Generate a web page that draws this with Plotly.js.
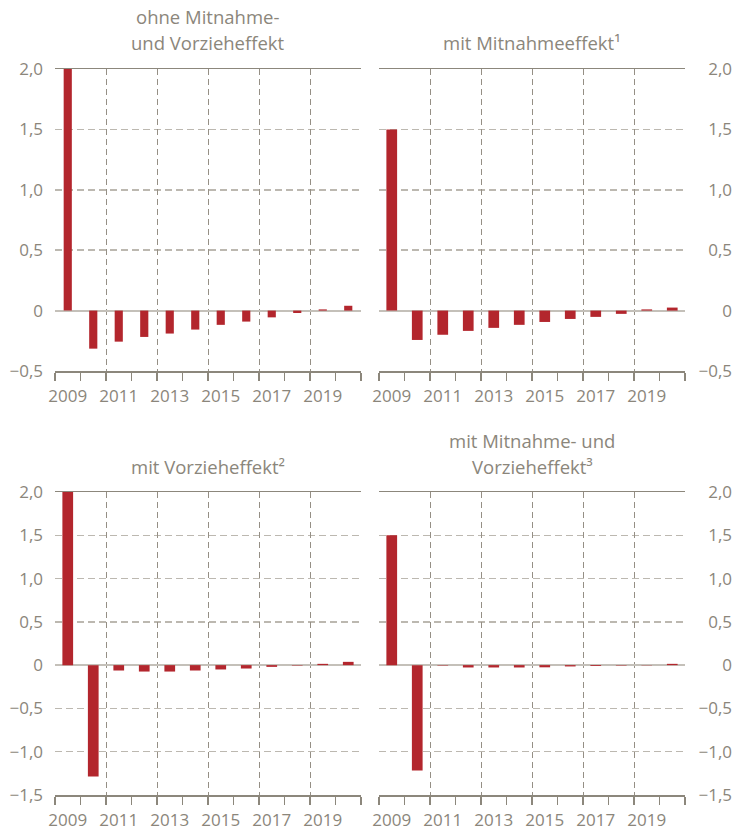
<!DOCTYPE html>
<html>
<head>
<meta charset="utf-8">
<script src="https://cdn.plot.ly/plotly-3.0.1.min.js"></script>
<style>html,body{margin:0;padding:0;background:#fff;}#chart{width:734px;height:831px;}</style>
</head>
<body>
<div id="chart"></div>
<script>
// ---- data ----
const years = [2009, 2010, 2011, 2012, 2013, 2014, 2015, 2016, 2017, 2018, 2019, 2020];
const ohneEffekt      = [2.00, -0.315, -0.257, -0.218, -0.19, -0.157, -0.118, -0.091, -0.056, -0.02, 0.01, 0.04];
const mitMitnahme     = [1.50, -0.243, -0.20, -0.168, -0.143, -0.118, -0.094, -0.069, -0.052, -0.027, 0.01, 0.025];
const mitVorzieh      = [2.00, -1.285, -0.062, -0.074, -0.074, -0.062, -0.05, -0.039, -0.02, -0.005, 0.015, 0.038];
const mitBeiden       = [1.50, -1.216, -0.005, -0.027, -0.027, -0.027, -0.025, -0.015, -0.01, -0.005, -0.003, 0.015];
const panelTitles = [
  ["ohne Mitnahme-", "und Vorzieheffekt"],
  ["mit Mitnahmeeffekt\u00b9"],
  ["mit Vorzieheffekt\u00b2"],
  ["mit Mitnahme- und", "Vorzieheffekt\u00b3"]
];
const xLabelYears = [2009, 2011, 2013, 2015, 2017, 2019];
const yTicksTop = [-0.5, 0, 0.5, 1.0, 1.5, 2.0];
const yTextTop  = ["\u22120,5", "0", "0,5", "1,0", "1,5", "2,0"];
const yTicksBot = [-1.5, -1.0, -0.5, 0, 0.5, 1.0, 1.5, 2.0];
const yTextBot  = ["\u22121,5", "\u22121,0", "\u22120,5", "0", "0,5", "1,0", "1,5", "2,0"];

// ---- styling ----
const W = 734, H = 831;
const textCol = '#8b867b';
const axisCol = '#8c877c';
const hGridCol = '#bcb8b0';
const vGridCol = '#958f85';
const zeroCol = '#c4c0b9';
const barCol = '#b3262d';
const FONT = 'Open Sans, sans-serif';

const px = (a, b) => [a / W, b / W];
const py = (top, bottom) => [1 - bottom / H, 1 - top / H];

const panels = [
  {vals: ohneEffekt,  xd: px(55, 361),  yd: py(69, 371),  yr: [-0.5, 2.0], tv: yTicksTop, tt: yTextTop, right: false, bw: 0.32},
  {vals: mitMitnahme, xd: px(379, 685), yd: py(69, 371),  yr: [-0.5, 2.0], tv: yTicksTop, tt: yTextTop, right: true,  bw: 0.42},
  {vals: mitVorzieh,  xd: px(55, 361),  yd: py(492, 795), yr: [-1.5, 2.0], tv: yTicksBot, tt: yTextBot, right: false, bw: 0.42},
  {vals: mitBeiden,   xd: px(379, 685), yd: py(492, 795), yr: [-1.5, 2.0], tv: yTicksBot, tt: yTextBot, right: true,  bw: 0.42}
];

const xRange = [years[0] - 0.5, years[years.length - 1] + 0.5];
const boundaries = years.map(y => y - 0.5).concat([years[years.length - 1] + 0.5]);
const gridPos = xLabelYears.slice(1).map(y => y - 0.5);

const traces = [];
const layout = {
  width: W, height: H,
  margin: {l: 0, r: 0, t: 0, b: 0},
  paper_bgcolor: '#fff', plot_bgcolor: 'rgba(0,0,0,0)',
  showlegend: false,
  font: {family: FONT, color: textCol, size: 17},
  annotations: []
};

panels.forEach((p, i) => {
  const n = i + 1;
  const ov = i + 5;
  const xs = n === 1 ? '' : String(n);
  // invisible helper trace so the overlay grid axis is drawn
  traces.push({
    type: 'scatter', mode: 'none', x: years, y: p.vals,
    xaxis: 'x' + ov, yaxis: 'y' + xs, hoverinfo: 'skip', showlegend: false
  });
  traces.push({
    type: 'bar', x: years, y: p.vals, width: p.bw,
    marker: {color: barCol, line: {width: 0}},
    xaxis: 'x' + xs, yaxis: 'y' + xs, hoverinfo: 'x+y'
  });
  // main x axis: labels + ticks at every boundary (minor)
  layout['xaxis' + xs] = {
    domain: p.xd, anchor: 'y' + xs, range: xRange, fixedrange: true,
    tickmode: 'array', tickvals: xLabelYears, ticktext: xLabelYears.map(String),
    ticks: '', showgrid: false, zeroline: false,
    showline: true, linecolor: axisCol, linewidth: 1.5, mirror: true,
    ticklabelstandoff: 9,
    tickfont: {family: FONT, size: 17, color: textCol},
    minor: {tickmode: 'array', tickvals: boundaries, ticks: 'outside', ticklen: 8, tickwidth: 1.5, tickcolor: axisCol, showgrid: false}
  };
  // overlay x axis: dashed vertical grid lines
  layout['xaxis' + ov] = {
    overlaying: 'x' + xs, anchor: 'y' + xs, range: xRange, fixedrange: true,
    tickmode: 'array', tickvals: gridPos, showticklabels: false,
    ticks: 'outside', ticklen: 8, tickwidth: 1.5, tickcolor: axisCol,
    showgrid: true, gridcolor: vGridCol, gridwidth: 1, griddash: '6px,4px',
    zeroline: false, showline: false
  };
  const ya = {
    domain: p.yd, range: p.yr, fixedrange: true,
    tickmode: 'array', tickvals: p.tv, ticktext: p.tt,
    ticks: '', showline: false,
    showgrid: true, gridcolor: hGridCol, gridwidth: 1.5, griddash: '7px,4px',
    zeroline: true, zerolinecolor: zeroCol, zerolinewidth: 2,
    tickfont: {family: FONT, size: 17, color: textCol},
    automargin: false
  };
  if (p.right) {
    ya.anchor = 'free'; ya.side = 'left'; ya.position = 1.0; ya.ticklabelstandoff = 2;
  } else {
    ya.anchor = 'x' + xs; ya.side = 'left'; ya.ticklabelstandoff = 11;
  }
  layout['yaxis' + xs] = ya;

  // panel titles, one annotation per line
  const lines = panelTitles[i];
  lines.forEach((ln, k) => {
    layout.annotations.push({
      text: ln, showarrow: false,
      xref: 'paper', yref: 'paper',
      x: (p.xd[0] + p.xd[1]) / 2, y: p.yd[1],
      xanchor: 'center', yanchor: 'middle',
      yshift: 26 + (lines.length - 1 - k) * 26,
      font: {family: FONT, size: 18.5, color: textCol}
    });
  });
});

Plotly.newPlot('chart', traces, layout, {displayModeBar: false, staticPlot: true});
</script>
</body>
</html>
